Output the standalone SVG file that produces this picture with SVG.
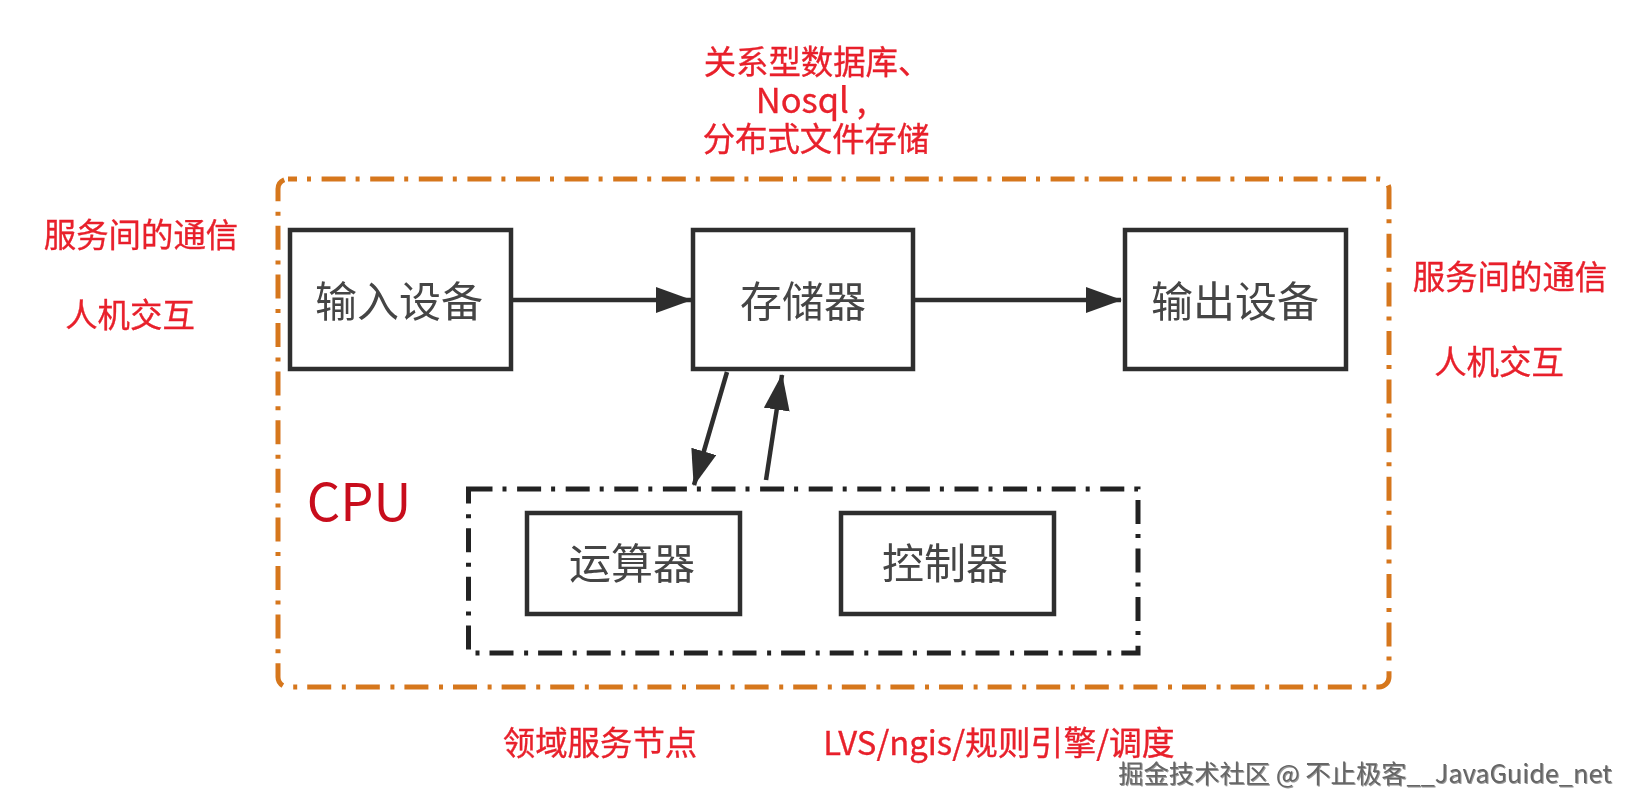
<svg xmlns="http://www.w3.org/2000/svg" width="1635" height="810" viewBox="0 0 1635 810">
<style>
text{font-family:"Noto Sans CJK SC","Noto Sans",sans-serif;text-anchor:middle;dominant-baseline:central}
.box{fill:#fff;stroke:#2e2e2e;stroke-width:4.5}
.lbl{font-size:42px;fill:#444}
.red{font-size:32.4px;fill:#e8202c;stroke:#e8202c;stroke-width:.35}
.conn{stroke:#2e2e2e;stroke-width:4.5;fill:none}
.orange{fill:none;stroke:#d6771f;stroke-width:5;stroke-dasharray:24 10 4 10.6;stroke-dashoffset:15}
.black{fill:none;stroke:#222;stroke-width:5;stroke-dasharray:24 10 4 10.6}
</style>
<defs>
<marker id="ah" markerUnits="userSpaceOnUse" markerWidth="36" markerHeight="26" refX="35" refY="13" orient="auto"><path d="M0 0L36 13L0 26Z" fill="#2e2e2e"/></marker>
<filter id="soft" x="-2%" y="-2%" width="104%" height="104%"><feGaussianBlur stdDeviation="0.7"/></filter>
<filter id="emboss" x="-2%" y="-10%" width="104%" height="130%"><feDropShadow dx="1" dy="1" stdDeviation="0.5" flood-color="#999"/></filter>
</defs>
<rect width="1635" height="810" fill="#fff"/>
<g filter="url(#soft)">
<g id="container-outer"><rect class="orange" x="278" y="179" width="1111" height="508" rx="10"/></g>
<g id="container-cpu"><rect class="black" x="468.500" y="489" width="669.500" height="164"/></g>
<g id="node-input"><rect class="box" x="290" y="230" width="221" height="139"/><text class="lbl" x="399" y="298">输入设备</text></g>
<g id="node-memory"><rect class="box" x="693" y="230" width="220" height="139"/><text class="lbl" x="803" y="298">存储器</text></g>
<g id="node-output"><rect class="box" x="1125" y="230" width="221" height="139"/><text class="lbl" x="1235" y="298">输出设备</text></g>
<g id="node-alu"><rect class="box" x="527" y="513" width="213" height="101"/><text class="lbl" x="632" y="560">运算器</text></g>
<g id="node-control"><rect class="box" x="841" y="513" width="213" height="101"/><text class="lbl" x="945" y="560">控制器</text></g>
<g id="connectors">
<line class="conn" x1="511" y1="300" x2="691" y2="300" marker-end="url(#ah)"/>
<line class="conn" x1="913" y1="300" x2="1121" y2="300" marker-end="url(#ah)"/>
<line class="conn" x1="727" y1="372" x2="694" y2="485" marker-end="url(#ah)"/>
<line class="conn" x1="766" y1="480" x2="782" y2="375" marker-end="url(#ah)"/>
</g>
<g id="labels">
<text x="817" y="59" class="red">关系型数据库、</text>
<text x="811" y="98" class="red" style="font-size:34.500px">Nosql ,</text>
<text x="816" y="136" class="red">分布式文件存储</text>
<text x="141" y="232" class="red">服务间的通信</text>
<text x="130" y="312" class="red">人机交互</text>
<text x="1510" y="274" class="red">服务间的通信</text>
<text x="1499" y="359" class="red">人机交互</text>
<text x="600" y="740" class="red">领域服务节点</text>
<text x="999" y="740" class="red" style="font-size:32.800px">LVS/ngis/规则引擎/调度</text>
<text x="359" y="498" font-size="52.500" fill="#c8101c">CPU</text>
<text id="watermark" x="1365" y="772" font-size="25.300" fill="#666" filter="url(#emboss)">掘金技术社区 @ 不止极客__JavaGuide_net</text>
</g>
</g>
</svg>
